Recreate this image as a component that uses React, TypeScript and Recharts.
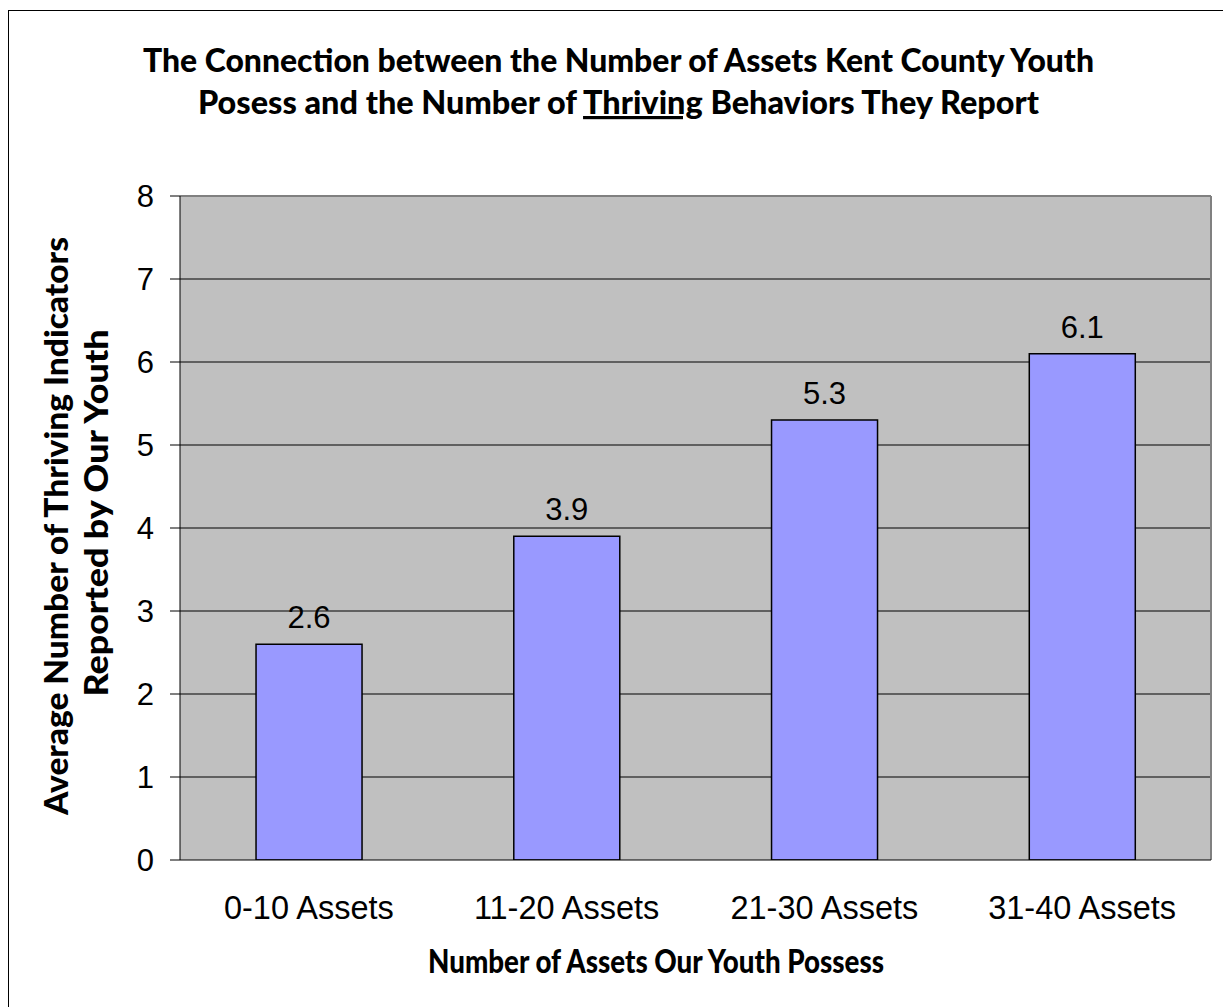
import React from 'react';
import { BarChart, Bar, XAxis, YAxis, CartesianGrid, LabelList, ReferenceLine } from 'recharts';

const categories = ['0-10 Assets', '11-20 Assets', '21-30 Assets', '31-40 Assets'];
const values = [2.6, 3.9, 5.3, 6.1];
const yTicks = [0, 1, 2, 3, 4, 5, 6, 7, 8];
const gridValues = [1, 2, 3, 4, 5, 6, 7];
const boundaryTicks = [0, 1, 2, 3, 4];

const titleLine1 = 'The Connection between the Number of Assets Kent County Youth';
const titleLine2a = 'Posess and the Number of ';
const titleLine2b = 'Thriving';
const titleLine2c = ' Behaviors They Report';
const yTitle1 = 'Average Number of Thriving Indicators';
const yTitle2 = 'Reported by Our Youth';
const xTitle = 'Number of Assets Our Youth Possess';

const data = categories.map((name, i) => ({ name, value: values[i], idx: i + 0.5 }));

const sansFont = '"Liberation Sans", Arial, sans-serif';
const boldFont = '"Lato", "Open Sans", sans-serif';

const XTick = (props: any) => {
  const { x, y, payload } = props;
  return (
    <text x={x} y={y} dy={22} textAnchor="middle" fontFamily={sansFont} fontSize={32.5} fill="#000">
      {payload.value}
    </text>
  );
};

const YTick = (props: any) => {
  const { x, y, payload } = props;
  return (
    <text x={x} y={y} dy={11} textAnchor="end" fontFamily={sansFont} fontSize={31} fill="#000">
      {payload.value}
    </text>
  );
};

export default function App() {
  return (
    <div style={{ position: 'fixed', left: 0, top: 0, width: 1223, height: 1007, overflow: 'hidden', background: '#fff' }}>
      <div style={{ position: 'absolute', left: 0, top: 0 }}>
        <BarChart
          width={1223}
          height={1007}
          data={data}
          margin={{ top: 196, right: 12, bottom: 87, left: 120 }}
          barCategoryGap="29.5%"
        >
          <CartesianGrid fill="#C0C0C0" fillOpacity={1} vertical={false} horizontalValues={gridValues} stroke="#000" strokeOpacity={1} />
          <XAxis
            xAxisId="bounds"
            type="number"
            dataKey="idx"
            domain={[0, 4]}
            ticks={boundaryTicks}
            tick={false}
            tickSize={10}
            tickLine={{ stroke: '#000' }}
            axisLine={false}
            height={0}
            allowDataOverflow
          />
          <XAxis
            xAxisId="cat"
            dataKey="name"
            type="category"
            height={60}
            tickLine={false}
            tickSize={10}
            tickMargin={27}
            axisLine={{ stroke: '#000' }}
            tick={<XTick />}
            interval={0}
          />
          <YAxis
            domain={[0, 8]}
            ticks={yTicks}
            width={60}
            tickSize={10}
            tickMargin={16}
            tickLine={{ stroke: '#000' }}
            axisLine={{ stroke: '#000' }}
            tick={<YTick />}
            allowDataOverflow
          />
          <ReferenceLine y={8} xAxisId="cat" stroke="#808080" strokeWidth={2} />
          <ReferenceLine x={4} xAxisId="bounds" stroke="#808080" strokeWidth={2} />
          <Bar xAxisId="cat" dataKey="value" fill="#9999FF" stroke="#000" strokeWidth={1.5} isAnimationActive={false}>
            <LabelList dataKey="value" position="top" offset={16} fontFamily={sansFont} fontSize={31} fill="#000" />
          </Bar>
        </BarChart>
      </div>
      <svg width={1223} height={1007} style={{ position: 'absolute', left: 0, top: 0, pointerEvents: 'none' }}>
        <rect x={8.5} y={10.5} width={1400} height={1200} fill="none" stroke="#000" strokeWidth={1} />
        <g fontFamily={boldFont} fontWeight={900} fontSize={32} fill="#000">
          <text x={618.5} y={72} textAnchor="middle" textLength={951} lengthAdjust="spacingAndGlyphs">{titleLine1}</text>
          <text x={618.5} y={114} textAnchor="middle" textLength={841} lengthAdjust="spacingAndGlyphs">
            {titleLine2a}
            <tspan textDecoration="underline" style={{ textDecoration: 'underline' }}>{titleLine2b}</tspan>
            {titleLine2c}
          </text>
          <text x={656} y={973} textAnchor="middle" textLength={456} lengthAdjust="spacingAndGlyphs">{xTitle}</text>
          <text transform="translate(68,526) rotate(-90)" x={0} y={0} textAnchor="middle" textLength={578} lengthAdjust="spacingAndGlyphs">{yTitle1}</text>
          <text transform="translate(108,513) rotate(-90)" x={0} y={0} textAnchor="middle" textLength={367} lengthAdjust="spacingAndGlyphs">{yTitle2}</text>
        </g>
      </svg>
    </div>
  );
}
